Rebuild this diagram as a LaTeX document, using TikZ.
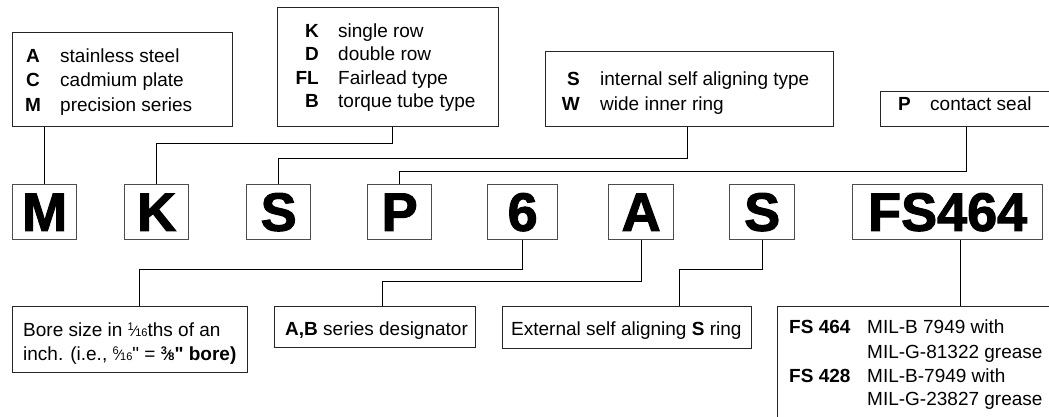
\documentclass[tikz,border=0pt]{standalone}
\usepackage{fontspec}
\setmainfont[Ligatures=TeXOff]{Liberation Sans}
\newfontfamily\heavy[FakeBold=2]{Liberation Sans}
\newcommand\fr[2]{{\fontsize{11}{11}\selectfont\raisebox{6pt}{#1}}\kern-0.5pt{\fontsize{15}{15}\selectfont ⁄}\kern-0.5pt{\fontsize{11}{11}\selectfont #2}}
\tikzset{
  box/.style={draw=black!85, line width=0.9pt, inner sep=0pt, anchor=north west},
  big/.style={draw=black!70, line width=1.3pt, inner sep=0pt, anchor=north west,
    minimum height=55pt, font=\heavy\bfseries\fontsize{54}{54}\selectfont},
  conn/.style={line width=0.9pt},
  lab/.style={inner sep=0pt, font=\bfseries},
  txt/.style={inner sep=0pt, anchor=base west}
}
\begin{document}
\fontsize{19}{24}\selectfont
\begin{tikzpicture}[x=1pt,y=-1pt]
\useasboundingbox (0,0) rectangle (1049,416);
\clip (0,0) rectangle (1049,416);
% top boxes
\node[box, minimum width=220pt, minimum height=94pt] (acm) at (12,32) {};
\node[box, minimum width=221pt, minimum height=119pt] (kbox) at (277,7) {};
\node[box, minimum width=288pt, minimum height=75pt] (swbox) at (545,51) {};
\node[box, minimum width=200pt, minimum height=35pt] (pbox) at (880,91) {};
% top box texts
\foreach \l/\t/\y [count=\i] in {A/stainless steel/62, C/cadmium plate/86.5, M/precision series/111}{
  \node[lab, anchor=base] (acml\i) at (33,\y) {\l};
  \node[txt] (acmt\i) at (60,\y) {\t};
}
\foreach \l/\t/\y [count=\i] in {K/single row/37, D/double row/60.5, FL/Fairlead type/84, B/torque tube type/107.5}{
  \node[lab, anchor=base east] (kl\i) at (319,\y) {\l};
  \node[txt] (kt\i) at (338,\y) {\t};
}
\foreach \l/\t/\y [count=\i] in {S/internal self aligning type/85, W/wide inner ring/110}{
  \node[lab, anchor=base east] (swl\i) at (580,\y) {\l};
  \node[txt] (swt\i) at (600,\y) {\t};
}
\node[lab, anchor=base west] (pl) at (898,110) {P};
\node[txt] (pt) at (930,110) {contact seal};
% letter boxes
\node[big, minimum width=64pt] (M) at (12,184) {M};
\node[big, minimum width=64pt] (K) at (124,184) {K};
\node[big, minimum width=64pt] (S1) at (246,184) {S};
\node[big, minimum width=64pt] (P) at (367,184) {P};
\node[big, minimum width=70pt] (six) at (487,184) {6};
\node[big, minimum width=65pt] (A) at (608,184) {A};
\node[big, minimum width=65pt] (S2) at (729,184) {S};
\node[big, minimum width=190pt] (fs) at (852,184) {FS464};
% bottom boxes
\node[box, minimum width=235pt, minimum height=66pt] (bore) at (12,306) {};
\node[box, minimum width=201pt, minimum height=41pt] (ab) at (274,306) {};
\node[box, minimum width=249pt, minimum height=42pt] (ext) at (502,306) {};
\node[box, minimum width=300pt, minimum height=140pt] (fsbox) at (777,306) {};
% bottom texts
\node[txt] (bt1) at (23,336) {Bore size in \fr{1}{16}ths of an};
\node[txt] (bt2) at (23,360) {inch. (i.e., \fr{6}{16}" = \textbf{\fr{3}{8}" bore)}};
\node[txt] (abt) at (285,335) {\textbf{A,B} series designator};
\node[txt] (ext1) at (511,335) {External self aligning \textbf{S} ring};
\node[lab, anchor=base west] (fsl1) at (789,333) {FS 464};
\node[txt] (fst1) at (867,333) {MIL-B 7949 with};
\node[txt] (fst2) at (867,358) {MIL-G-81322 grease};
\node[lab, anchor=base west] (fsl2) at (789,382) {FS 428};
\node[txt] (fst3) at (867,382) {MIL-B-7949 with};
\node[txt] (fst4) at (867,405) {MIL-G-23827 grease};
% bend coordinates
\coordinate (kb) at (392,143);
\coordinate (sb) at (687,158);
\coordinate (pb) at (966,171);
\coordinate (b1) at (139,269);
\coordinate (a1) at (382,281);
\coordinate (e1) at (679,269);
\coordinate (f1) at (960,270);
% connectors
\draw[conn] (acm.south -| M.north) -- (M.north);
\draw[conn] (kbox.south -| kb) -- (kb) -| (K.north);
\draw[conn] (swbox.south -| sb) -- (sb) -| (S1.north);
\draw[conn] (pbox.south -| pb) -- (pb) -| (P.north);
\draw[conn] (six.south) |- (b1) -- (b1 |- bore.north);
\draw[conn] (A.south) |- (a1) -- (a1 |- ab.north);
\draw[conn] (S2.south) |- (e1) -- (e1 |- ext.north);
\draw[conn] (fs.south -| f1) -- (f1 |- fsbox.north);
\end{tikzpicture}
\end{document}
